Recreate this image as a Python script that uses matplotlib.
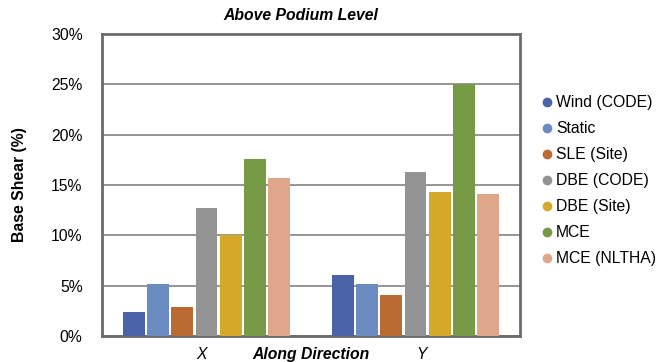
import numpy as np
import matplotlib.pyplot as plt
from matplotlib.lines import Line2D

plt.rcParams['font.family'] = ['Liberation Sans', 'DejaVu Sans']

# 基底剪力比例 (%)
directions = ['X', 'Y']
series = ['Wind (CODE)', 'Static', 'SLE (Site)', 'DBE (CODE)', 'DBE (Site)', 'MCE', 'MCE (NLTHA)']
wind_code = [2.4, 6.1]
static = [5.2, 5.2]
sle_site = [2.9, 4.1]
dbe_code = [12.7, 16.3]
dbe_site = [10.0, 14.3]
mce = [17.6, 25.0]
mce_nltha = [15.7, 14.1]
colors = ['#4a63a8', '#6a8cc0', '#b96b33', '#939393', '#d4a829', '#779a47', '#e0a68b']

values = [wind_code, static, sle_site, dbe_code, dbe_site, mce, mce_nltha]
fs = 11.3

fig = plt.figure(figsize=(6.58, 3.62), dpi=100)
ax = fig.add_axes([102 / 658, 1 - 336 / 362, 418 / 658, 302 / 362])

x = np.arange(len(directions))
step = 0.1155
width = 0.105
for i, (name, vals, c) in enumerate(zip(series, values, colors)):
    ax.bar(x + (i - 3) * step, vals, width=width, color=c, label=name, zorder=3)

ax.set_xlim(-0.5, 1.5)
ax.set_ylim(0, 30)
ax.set_yticks(np.arange(0, 31, 5))
ax.set_yticklabels([f'{v}%' for v in range(0, 31, 5)], fontsize=fs)
ax.yaxis.grid(True, color='#8c8c8c', linewidth=1.3, zorder=0)
ax.tick_params(axis='y', length=0, pad=14)
ax.tick_params(axis='x', length=0, pad=8)
ax.set_xticks([-0.025, 1.03])
ax.set_xticklabels(directions, fontsize=fs, style='italic')
for s in ax.spines.values():
    s.set_color('#6b6b6b')
    s.set_linewidth(2)

ax.set_ylabel('Base Shear (%)', fontsize=fs, fontweight='bold', labelpad=17)
ax.text(0.5, -0.06, 'Along Direction', transform=ax.transAxes, ha='center', va='center',
        fontsize=fs, fontweight='bold', style='italic')
fig.text(301 / 658, 1 - 15 / 362, 'Above Podium Level', ha='center', va='center',
         fontsize=fs, fontweight='bold', style='italic')

handles = [Line2D([], [], marker='o', linestyle='', color=c, markersize=6) for c in colors]
fig.legend(handles, series, loc='upper left', bbox_to_anchor=(531 / 658, 1 - 89 / 362),
           frameon=False, fontsize=fs, handletextpad=0.0, labelspacing=0.7,
           borderaxespad=0, handlelength=1.2)

plt.savefig('out.png')
